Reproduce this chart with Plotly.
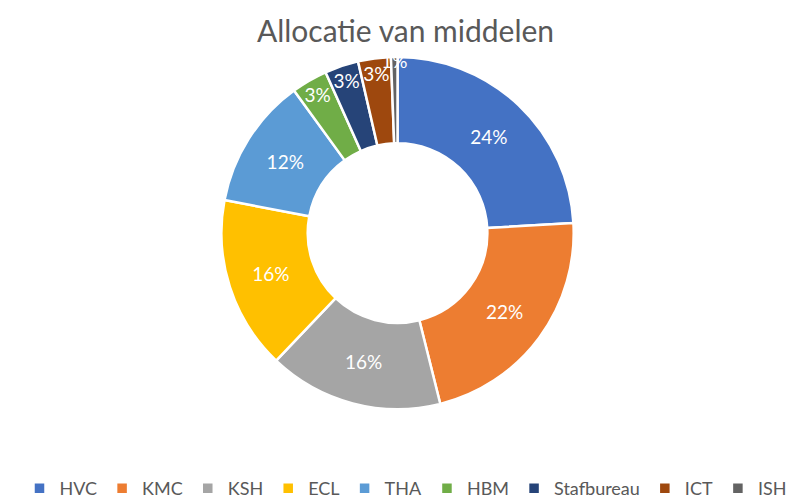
import plotly.graph_objects as go

categories = ["HVC", "KMC", "KSH", "ECL", "THA", "HBM", "Stafbureau", "ICT", "ISH"]
values = [24.1, 22.0, 16.0, 15.9, 12.0, 3.3, 3.1, 3.0, 0.6]
colors = ["#4472C4", "#ED7D31", "#A5A5A5", "#FFC000", "#5B9BD5",
          "#70AD47", "#264478", "#9E480E", "#636363"]

fig = go.Figure(go.Pie(
    labels=categories,
    values=values,
    hole=0.51,
    sort=False,
    direction="clockwise",
    rotation=0,
    marker=dict(colors=colors, line=dict(color="white", width=2.5)),
    texttemplate="%{percent:.0%}",
    textposition="inside",
    insidetextorientation="horizontal",
    textfont=dict(color="white", size=19, family="Lato"),
    domain=dict(x=[0, 0.98], y=[0.196, 0.902]),
))

fig.update_layout(
    width=795, height=499,
    margin=dict(l=0, r=0, t=0, b=0),
    paper_bgcolor="white",
    font=dict(family="Lato", color="#595959"),
    title=dict(text="Allocatie van middelen", x=0.5, xanchor="center",
               y=0.953, yanchor="middle",
               font=dict(size=30, color="#595959", family="Lato")),
    uniformtext=dict(minsize=19, mode="show"),
    legend=dict(orientation="h", x=0.5, xanchor="center", y=0.0, yanchor="bottom",
                font=dict(size=18, color="#595959", family="Lato"),
                traceorder="normal"),
)

fig.write_html("out.html")
